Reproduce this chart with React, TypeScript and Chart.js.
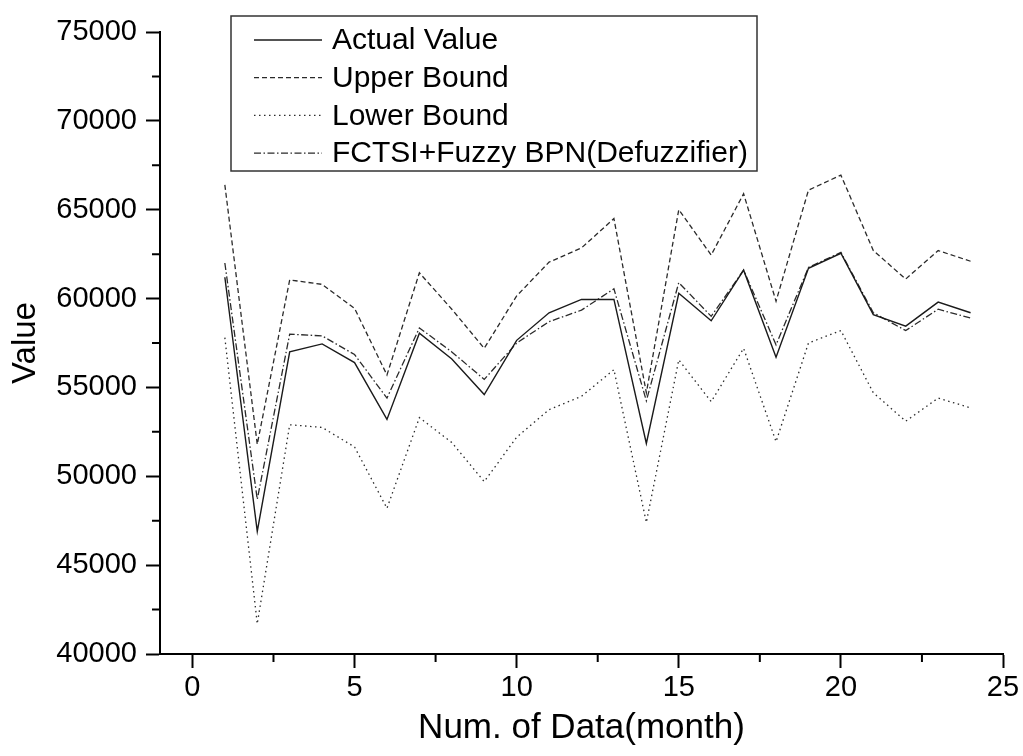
import React, { useEffect, useRef } from "react";
import { Chart, registerables } from "chart.js";

Chart.register(...registerables);

const months = [1, 2, 3, 4, 5, 6, 7, 8, 9, 10, 11, 12, 13, 14, 15, 16, 17, 18, 19, 20, 21, 22, 23, 24];

const actualValue = [61200, 46900, 57000, 57450, 56400, 53200, 58050, 56600, 54600, 57650, 59200, 59950, 59950, 51850, 60300, 58750, 61600, 56700, 61700, 62550, 59100, 58450, 59800, 59200];
const upperBound = [66400, 51800, 61050, 60800, 59450, 55700, 61450, 59400, 57200, 60150, 62050, 62850, 64500, 54700, 65000, 62450, 65900, 59850, 66100, 66950, 62700, 61100, 62700, 62100];
const lowerBound = [57800, 41700, 52900, 52750, 51650, 48200, 53300, 51900, 49700, 52200, 53750, 54500, 56000, 47400, 56550, 54200, 57200, 51950, 57500, 58200, 54700, 53100, 54400, 53850];
const fctsiDefuzz = [62000, 48700, 58000, 57900, 56850, 54400, 58350, 57000, 55450, 57500, 58700, 59350, 60550, 54250, 60900, 59000, 61600, 57400, 61750, 62600, 59200, 58200, 59400, 58900];

const seriesLabels = ["Actual Value", "Upper Bound", "Lower Bound", "FCTSI+Fuzzy BPN(Defuzzifier)"];

const xMajorTicks = [0, 5, 10, 15, 20, 25];
const xMinorTicks = [2.5, 7.5, 12.5, 17.5, 22.5];
const yMajorTicks = [40000, 45000, 50000, 55000, 60000, 65000, 70000, 75000];
const yMinorTicks = [42500, 47500, 52500, 57500, 62500, 67500, 72500];

const xTitle = "Num. of Data(month)";
const yTitle = "Value";

const FONT = "'Liberation Sans', Arial, sans-serif";

const minorTicksPlugin = {
  id: "minorTicks",
  afterDraw(chart: any) {
    const { ctx, chartArea } = chart;
    const xs = chart.scales.x;
    const ys = chart.scales.y;
    ctx.save();
    ctx.strokeStyle = "#000";
    ctx.lineWidth = 2;
    ctx.beginPath();
    for (const v of xMinorTicks) {
      const px = xs.getPixelForValue(v);
      ctx.moveTo(px, chartArea.bottom);
      ctx.lineTo(px, chartArea.bottom + 8);
    }
    for (const v of yMinorTicks) {
      const py = ys.getPixelForValue(v);
      ctx.moveTo(chartArea.left - 8, py);
      ctx.lineTo(chartArea.left, py);
    }
    ctx.stroke();
    ctx.restore();
  },
};

const boxLegendPlugin = {
  id: "boxLegend",
  afterDraw(chart: any) {
    const { ctx } = chart;
    const boxLeft = 231;
    const boxTop = 16;
    const boxRight = 757;
    const boxBottom = 171;
    ctx.save();
    ctx.strokeStyle = "#333";
    ctx.lineWidth = 1.5;
    ctx.strokeRect(boxLeft, boxTop, boxRight - boxLeft, boxBottom - boxTop);
    ctx.font = `30px ${FONT}`;
    ctx.textBaseline = "middle";
    ctx.textAlign = "left";
    ctx.fillStyle = "#000";
    chart.data.datasets.forEach((ds: any, i: number) => {
      const y = boxTop + 24 + i * 37.7;
      ctx.save();
      ctx.strokeStyle = ds.borderColor;
      ctx.lineWidth = ds.borderWidth;
      ctx.setLineDash(ds.borderDash || []);
      ctx.beginPath();
      ctx.moveTo(254, y);
      ctx.lineTo(322, y);
      ctx.stroke();
      ctx.restore();
      ctx.fillText(ds.label, 332, y + 1);
    });
    ctx.restore();
  },
};

export default function App() {
  const canvasRef = useRef<HTMLCanvasElement | null>(null);

  useEffect(() => {
    if (!canvasRef.current) return;
    const mk = (vals: number[]) => months.map((m, i) => ({ x: m, y: vals[i] }));
    const chart = new Chart(canvasRef.current, {
      type: "line",
      data: {
        datasets: [
          { label: seriesLabels[0], data: mk(actualValue), borderColor: "#1a1a1a", borderWidth: 1.4, borderDash: [], pointRadius: 0, tension: 0 },
          { label: seriesLabels[1], data: mk(upperBound), borderColor: "#2a2a2a", borderWidth: 1.3, borderDash: [5, 3], pointRadius: 0, tension: 0 },
          { label: seriesLabels[2], data: mk(lowerBound), borderColor: "#2a2a2a", borderWidth: 1.3, borderDash: [1.5, 3.5], pointRadius: 0, tension: 0 },
          { label: seriesLabels[3], data: mk(fctsiDefuzz), borderColor: "#2a2a2a", borderWidth: 1.3, borderDash: [7, 2.5, 1.5, 2.5], pointRadius: 0, tension: 0 },
        ],
      },
      options: {
        animation: false,
        responsive: true,
        maintainAspectRatio: false,
        layout: { padding: { top: 32, right: 20, left: 0, bottom: 0 } },
        plugins: { legend: { display: false }, tooltip: { enabled: false } },
        scales: {
          x: {
            type: "linear",
            min: -1,
            max: 25,
            afterBuildTicks: (scale: any) => {
              scale.ticks = xMajorTicks.map((v) => ({ value: v }));
            },
            afterFit: (scale: any) => {
              scale.height = 102;
            },
            ticks: {
              color: "#000",
              font: { family: FONT, size: 29 },
              padding: 3,
              maxRotation: 0,
              callback: (v: any) => String(v),
            },
            grid: { display: true, drawOnChartArea: false, drawTicks: true, tickLength: 14, tickWidth: 2, tickColor: "#000" },
            border: { display: true, color: "#000", width: 2 },
            title: { display: true, text: xTitle, color: "#000", font: { family: FONT, size: 35 }, padding: { top: 0, bottom: 7 } },
          },
          y: {
            type: "linear",
            min: 40000,
            max: 75000,
            afterBuildTicks: (scale: any) => {
              scale.ticks = yMajorTicks.map((v) => ({ value: v }));
            },
            afterFit: (scale: any) => {
              scale.width = 160;
            },
            ticks: {
              color: "#000",
              font: { family: FONT, size: 29 },
              padding: 9,
              callback: (v: any) => String(v),
            },
            grid: { display: true, drawOnChartArea: false, drawTicks: true, tickLength: 14, tickWidth: 2, tickColor: "#000" },
            border: { display: true, color: "#000", width: 2 },
            title: { display: true, text: yTitle, color: "#000", font: { family: FONT, size: 33 }, padding: { top: 6, bottom: 0 } },
          },
        },
      },
      plugins: [minorTicksPlugin, boxLegendPlugin],
    });
    return () => chart.destroy();
  }, []);

  return (
    <div style={{ position: "absolute", left: 0, top: 0, width: 1023, height: 756, background: "#fff" }}>
      <canvas ref={canvasRef} />
    </div>
  );
}
